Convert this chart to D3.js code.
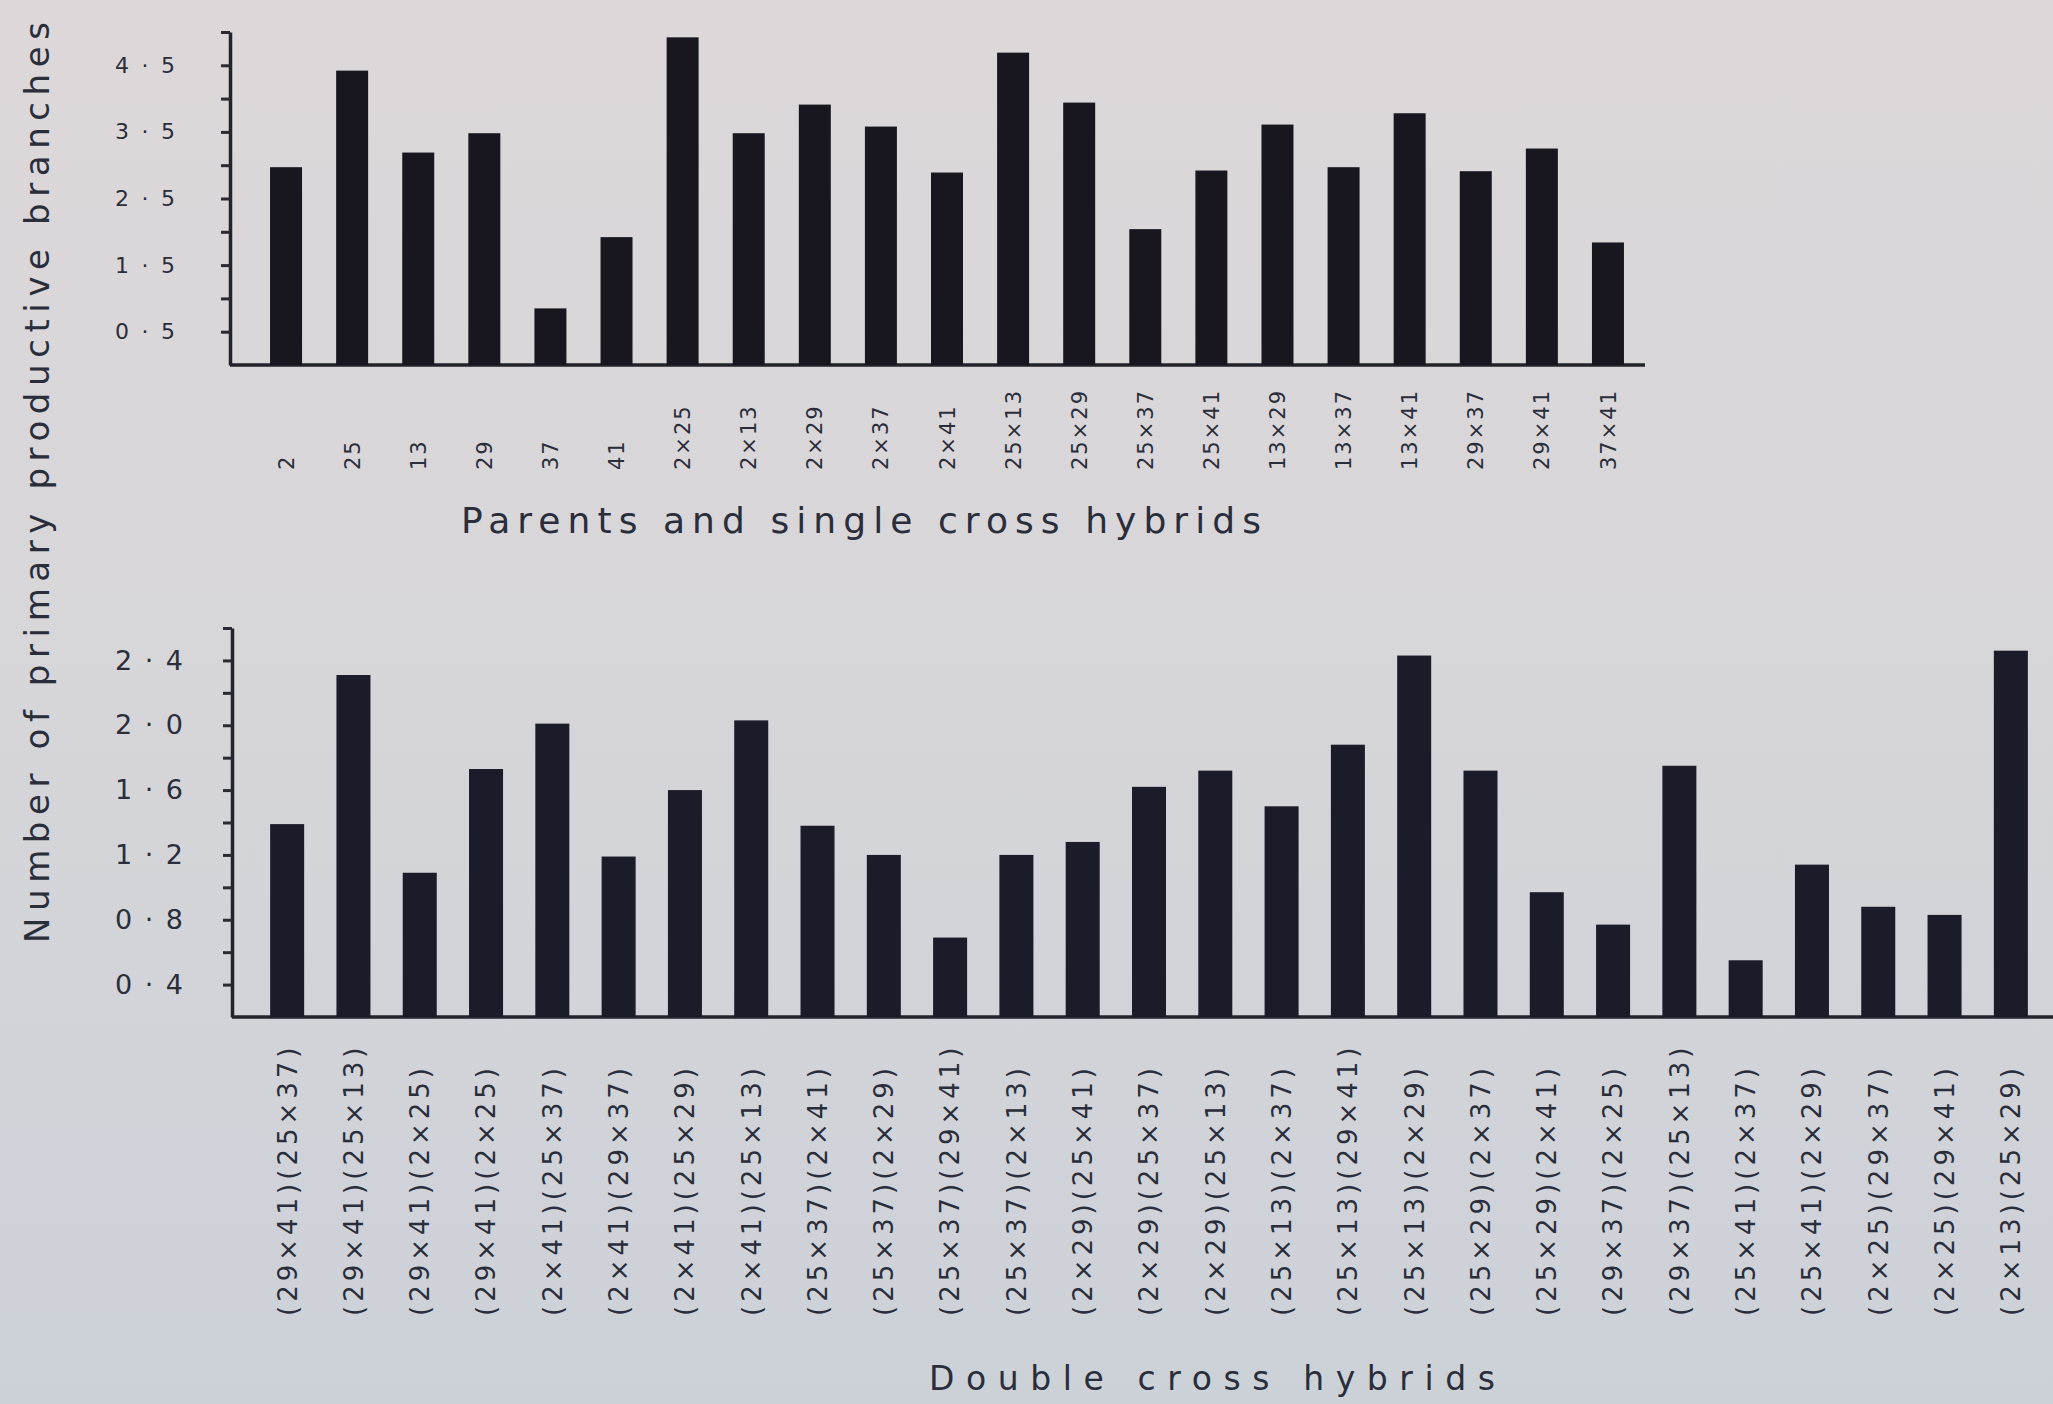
<!DOCTYPE html>
<html>
<head>
<meta charset="utf-8">
<script src="https://cdnjs.cloudflare.com/ajax/libs/d3/7.8.5/d3.min.js"></script>
<style>
  body { margin: 0; background: #d6d5d8; }
  svg { display: block; }
  text { font-family: "DejaVu Sans", sans-serif; fill: #2a2d3a; }
</style>
</head>
<body>
<svg></svg>
<script>

// top panel: parents and single cross hybrids
var singles = ["2", "25", "13", "29", "37", "41", "2×25", "2×13", "2×29", "2×37", "2×41",
    "25×13", "25×29", "25×37", "25×41", "13×29", "13×37", "13×41", "29×37", "29×41", "37×41"];
var singleValues = [2.97, 4.42, 3.19, 3.48, 0.85, 1.92, 4.92, 3.48, 3.91, 3.58, 2.89,
    4.69, 3.94, 2.04, 2.92, 3.61, 2.97, 3.78, 2.91, 3.25, 1.84];
var topTicks = [0.5, 1, 1.5, 2, 2.5, 3, 3.5, 4, 4.5, 5];
var topLabelValues = [0.5, 1.5, 2.5, 3.5, 4.5];
var topLabelText = ["0·5", "1·5", "2·5", "3·5", "4·5"];

// bottom panel: double cross hybrids
var doubles = ["(29×41)(25×37)", "(29×41)(25×13)", "(29×41)(2×25)", "(29×41)(2×25)",
    "(2×41)(25×37)", "(2×41)(29×37)", "(2×41)(25×29)", "(2×41)(25×13)",
    "(25×37)(2×41)", "(25×37)(2×29)", "(25×37)(29×41)", "(25×37)(2×13)",
    "(2×29)(25×41)", "(2×29)(25×37)", "(2×29)(25×13)", "(25×13)(2×37)",
    "(25×13)(29×41)", "(25×13)(2×29)", "(25×29)(2×37)", "(25×29)(2×41)",
    "(29×37)(2×25)", "(29×37)(25×13)", "(25×41)(2×37)", "(25×41)(2×29)",
    "(2×25)(29×37)", "(2×25)(29×41)", "(2×13)(25×29)"];
var doubleValues = [1.39, 2.31, 1.09, 1.73, 2.01, 1.19, 1.60, 2.03, 1.38, 1.20, 0.69,
    1.20, 1.28, 1.62, 1.72, 1.50, 1.88, 2.43, 1.72, 0.97, 0.77, 1.75, 0.55,
    1.14, 0.88, 0.83, 2.46];
var bottomTicks = [0.4, 0.6, 0.8, 1.0, 1.2, 1.4, 1.6, 1.8, 2.0, 2.2, 2.4, 2.6];
var bottomLabelValues = [0.4, 0.8, 1.2, 1.6, 2.0, 2.4];
var bottomLabelText = ["0·4", "0·8", "1·2", "1·6", "2·0", "2·4"];

var yTitle = "Number of primary productive branches";
var topTitle = "Parents and single cross hybrids";
var bottomTitle = "Double  cross hybrids";

var width = 2053;
var height = 1404;
var barColor = "#18171f";

var svg = d3.select('svg')
    .attr("width", width)
    .attr("height", height);

// paper background
var grad = svg.append("defs").append("linearGradient")
    .attr("id", "paper")
    .attr("x1", 0).attr("y1", 0).attr("x2", 0).attr("y2", 1);
grad.append("stop").attr("offset", "0%").attr("stop-color", "#ddd7d9");
grad.append("stop").attr("offset", "45%").attr("stop-color", "#d7d6d9");
grad.append("stop").attr("offset", "100%").attr("stop-color", "#ccd1d8");
svg.append("rect")
    .attr("width", width)
    .attr("height", height)
    .attr("fill", "url(#paper)");

function tickText(values, texts) {
    return function (d) {
        var i = values.findIndex(function (v) { return Math.abs(v - d) < 1e-6; });
        return i < 0 ? "" : texts[i];
    };
}

// ---------- top panel ----------
var topAxisX = 230;

var yTop = d3.scaleLinear()
    .domain([0, 5])
    .range([365, 32]);

var xTop = d3.scaleBand()
    .domain(singles)
    .range([253, 1641])
    .paddingInner(0.516)
    .paddingOuter(0.258);

var topAxis = d3.axisLeft(yTop)
    .tickValues(topTicks)
    .tickSize(9)
    .tickSizeOuter(0)
    .tickPadding(46)
    .tickFormat(tickText(topLabelValues, topLabelText));

var gTopAxis = svg.append("g")
    .attr("transform", "translate(" + topAxisX + ",0)")
    .call(topAxis);

svg.append("line")
    .attr("x1", topAxisX)
    .attr("x2", 1645)
    .attr("y1", yTop(0))
    .attr("y2", yTop(0))
    .attr("stroke", "#23232b")
    .attr("stroke-width", 3.5);

svg.selectAll(".topbar")
    .data(singleValues)
    .enter()
    .append("rect")
    .attr("class", "topbar")
    .attr("x", function (d, i) { return xTop(singles[i]); })
    .attr("width", xTop.bandwidth())
    .attr("y", function (d) { return yTop(d); })
    .attr("height", function (d) { return yTop(0) - yTop(d); })
    .attr("fill", barColor);

svg.selectAll(".toplabel")
    .data(singles)
    .enter()
    .append("text")
    .attr("class", "toplabel")
    .attr("transform", function (d) {
        return "translate(" + (xTop(d) + xTop.bandwidth() / 2) + ",470) rotate(-90)";
    })
    .attr("dy", "0.36em")
    .attr("font-size", 21)
    .attr("letter-spacing", 2)
    .text(function (d) { return d; });

svg.append("text")
    .attr("x", 461)
    .attr("y", 533)
    .attr("font-size", 36)
    .attr("textLength", 800)
    .attr("lengthAdjust", "spacing")
    .text(topTitle);

// ---------- bottom panel ----------
var bottomAxisX = 232;

var yBottom = d3.scaleLinear()
    .domain([0.2, 2.6])
    .range([1017, 628]);

var xBottom = d3.scaleBand()
    .domain(d3.range(doubles.length))
    .range([254, 2044])
    .paddingInner(0.487)
    .paddingOuter(0.2435);

var bottomAxis = d3.axisLeft(yBottom)
    .tickValues(bottomTicks)
    .tickSize(9)
    .tickSizeOuter(0)
    .tickPadding(40)
    .tickFormat(tickText(bottomLabelValues, bottomLabelText));

var gBottomAxis = svg.append("g")
    .attr("transform", "translate(" + bottomAxisX + ",0)")
    .call(bottomAxis);

svg.append("line")
    .attr("x1", bottomAxisX)
    .attr("x2", width)
    .attr("y1", yBottom(0.2))
    .attr("y2", yBottom(0.2))
    .attr("stroke", "#23232b")
    .attr("stroke-width", 3.5);

svg.selectAll(".bottombar")
    .data(doubleValues)
    .enter()
    .append("rect")
    .attr("class", "bottombar")
    .attr("x", function (d, i) { return xBottom(i); })
    .attr("width", xBottom.bandwidth())
    .attr("y", function (d) { return yBottom(d); })
    .attr("height", function (d) { return yBottom(0.2) - yBottom(d); })
    .attr("fill", "#1a1c29");

svg.selectAll(".bottomlabel")
    .data(doubles)
    .enter()
    .append("text")
    .attr("class", "bottomlabel")
    .attr("transform", function (d, i) {
        return "translate(" + (xBottom(i) + xBottom.bandwidth() / 2) + ",1316) rotate(-90)";
    })
    .attr("dy", "0.36em")
    .attr("font-size", 26)
    .attr("letter-spacing", 4)
    .text(function (d) { return d; });

svg.append("text")
    .attr("x", 929)
    .attr("y", 1390)
    .attr("font-size", 33)
    .attr("textLength", 566)
    .attr("lengthAdjust", "spacing")
    .text(bottomTitle);

// axis styling
[gTopAxis, gBottomAxis].forEach(function (g) {
    g.select(".domain")
        .attr("stroke", "#23232b")
        .attr("stroke-width", 3.5);
    g.selectAll(".tick line")
        .attr("stroke", "#2a2a33")
        .attr("stroke-width", 3);
    g.selectAll(".tick text")
        .attr("fill", "#2a2d3a")
        .style("font-family", "DejaVu Sans, sans-serif");
});
gTopAxis.selectAll(".tick text")
    .attr("font-size", 22)
    .attr("textLength", function (d) { return this.textContent ? 60 : null; })
    .attr("lengthAdjust", "spacing");
gBottomAxis.selectAll(".tick text")
    .attr("font-size", 27)
    .attr("textLength", function (d) { return this.textContent ? 68 : null; })
    .attr("lengthAdjust", "spacing");

// shared y title
svg.append("text")
    .attr("transform", "translate(49,943) rotate(-90)")
    .attr("font-size", 34)
    .attr("textLength", 921)
    .attr("lengthAdjust", "spacing")
    .text(yTitle);

</script>
</body>
</html>
